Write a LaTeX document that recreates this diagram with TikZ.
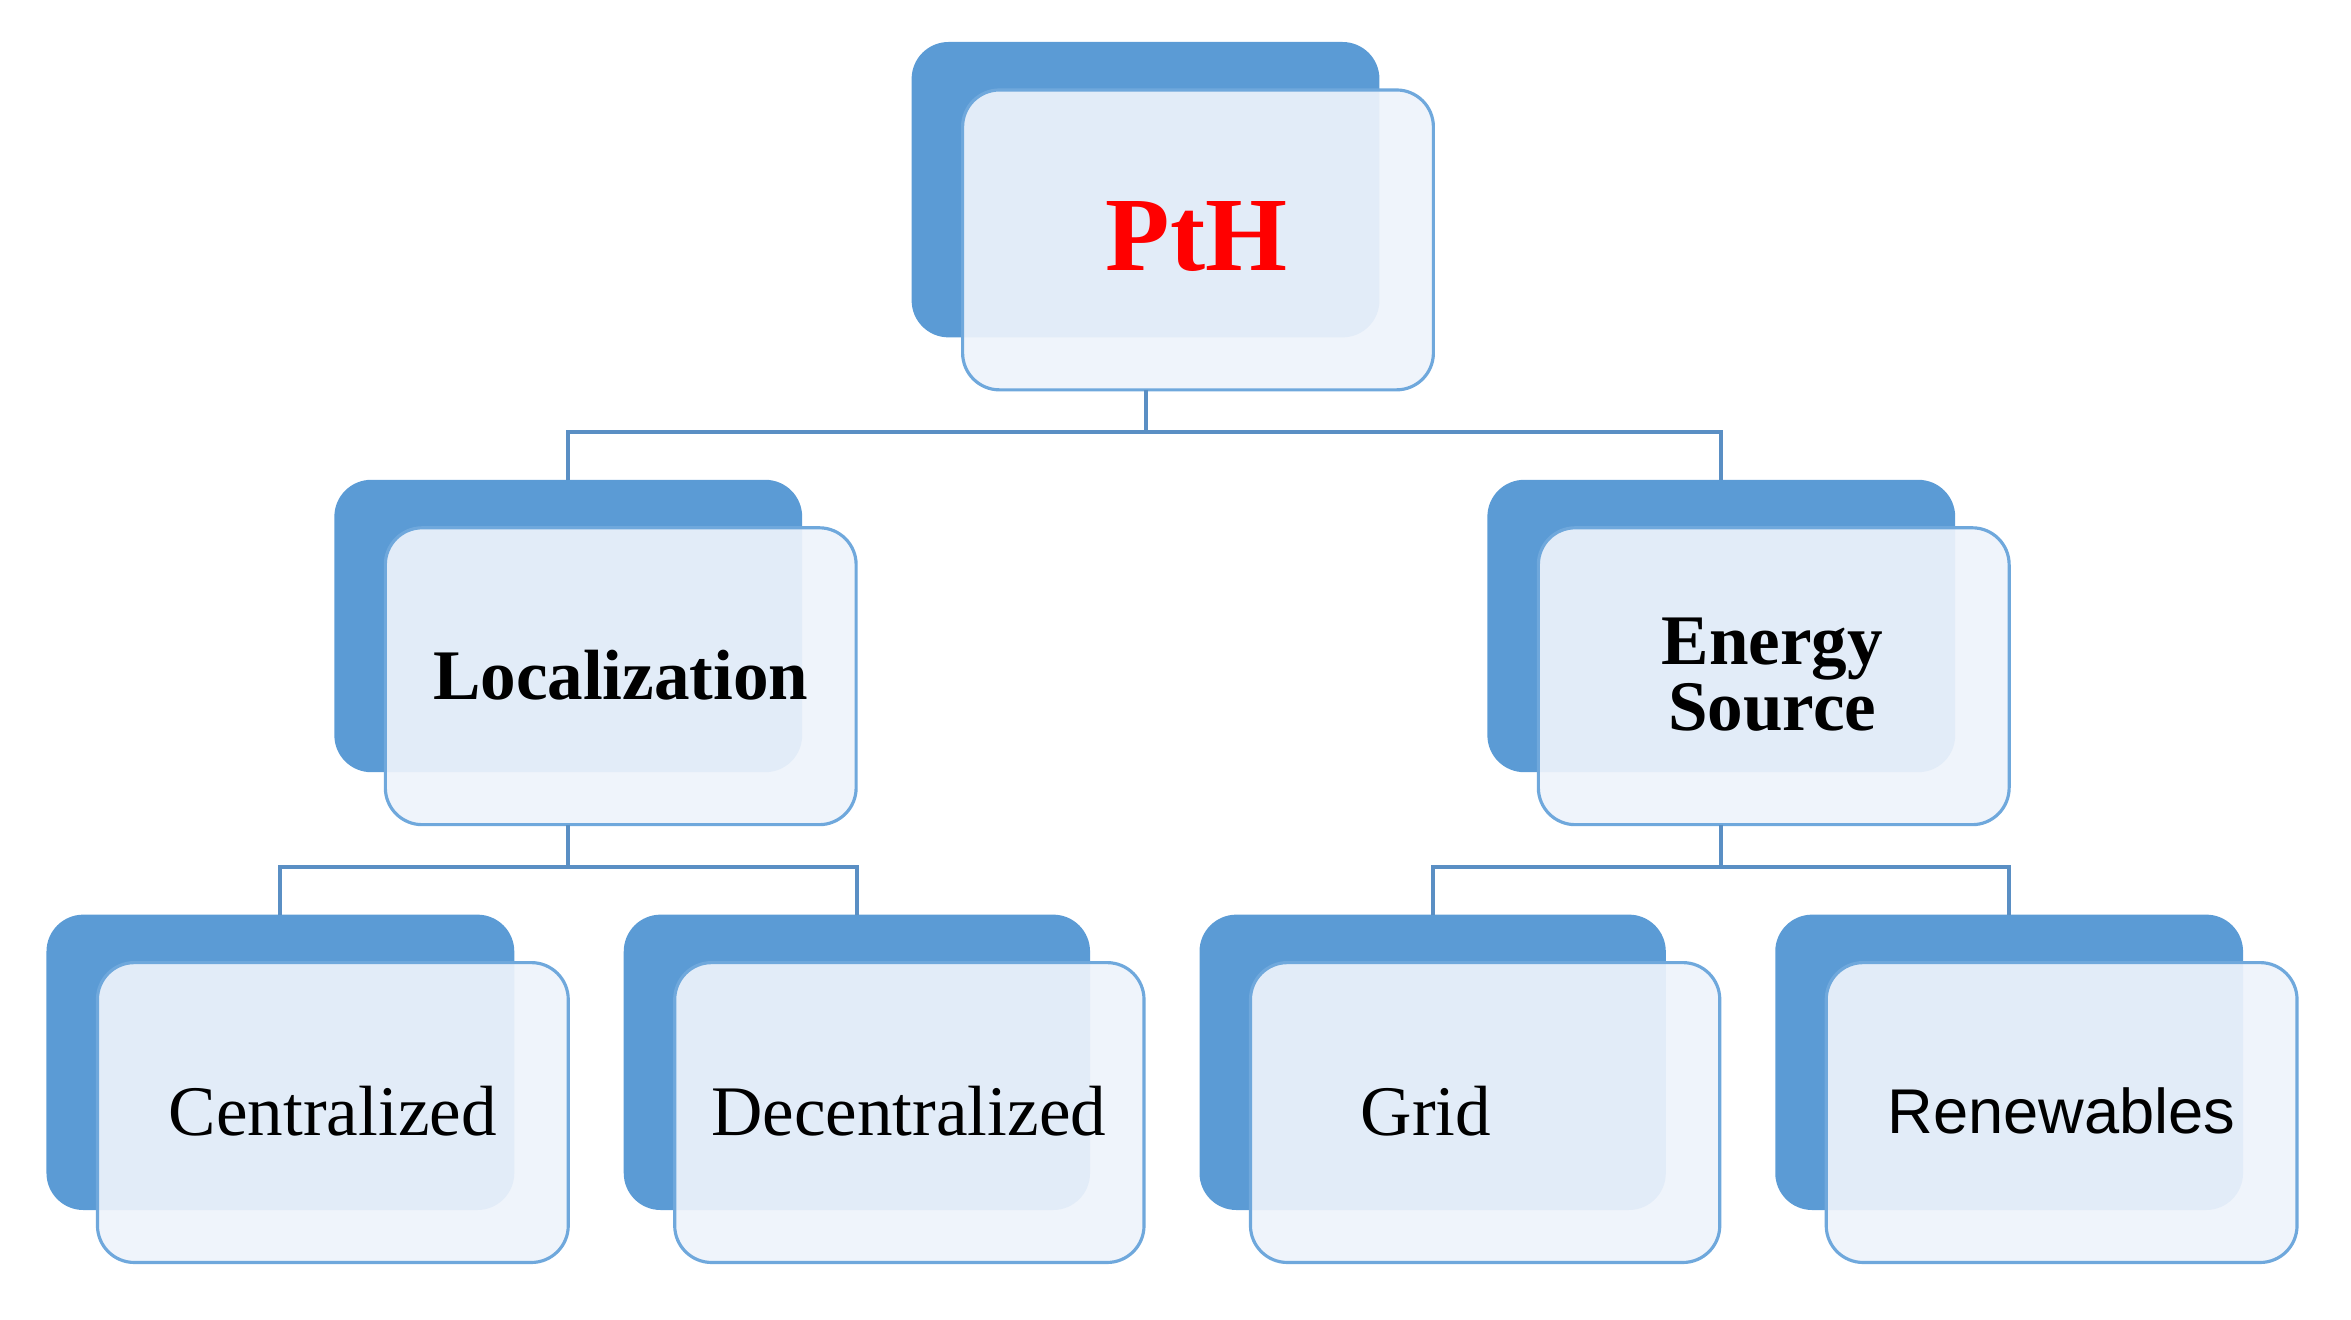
\documentclass[tikz,border=0pt]{standalone}
\usepackage{fontspec}
\setmainfont{Liberation Serif}
\newfontfamily\sansf{Liberation Sans}
\begin{document}
\begin{tikzpicture}[x=0.02cm,y=-0.02cm,
  back/.style={fill=backblue,rounded corners=14},
  front/.style={draw=frontline,line width=1.2pt,fill=frontfill,fill opacity=0.92,rounded corners=14},
  conn/.style={draw=connline,line width=1.5pt},
  lbl/.style={font=\fontsize{27}{29}\selectfont,text=black}]
\definecolor{backblue}{HTML}{5B9BD5}
\definecolor{frontfill}{HTML}{EEF3FB}
\definecolor{frontline}{HTML}{6FA8DC}
\definecolor{connline}{HTML}{5A8FC4}
\useasboundingbox (0,0) rectangle (1568,880);
\newcommand{\pbox}[5]{%
  \fill[back] (#1,#2) rectangle (#3,#4);
  \path[front] (#1+34,#2+32) rectangle (#3+36,#4+35);
  \coordinate (#5) at ({(#1+#3)/2},#2);
  \coordinate (#5b) at ({(#1+#3)/2},#4+35);}
\pbox{608}{28}{920}{225}{pth}
\pbox{223}{320}{535}{515}{loc}
\pbox{992}{320}{1304}{515}{ene}
\pbox{31}{610}{343}{807}{cen}
\pbox{416}{610}{727}{807}{dec}
\pbox{800}{610}{1111}{807}{gri}
\pbox{1184}{610}{1496}{807}{ren}
\node[font=\fontsize{40}{42}\selectfont\bfseries,text=red] (tpth) at (798,158) {PtH};
\node[lbl,font=\fontsize{27}{29}\selectfont\bfseries] (tloc) at (414,450) {Localization};
\node[lbl,font=\fontsize{27}{29}\selectfont\bfseries,align=center] (tene) at (1182,450) {Energy\\[-4pt]Source};
\node[lbl] (tcen) at (222,741) {Centralized};
\node[lbl] (tdec) at (606,741) {Decentralized};
\node[lbl] (tgri) at (951,741) {Grid};
\node[lbl,font=\sansf\fontsize{24}{27}\selectfont] (tren) at (1375,741) {Renewables};
\coordinate (j1) at (764,288);
\coordinate (j2) at (379,578);
\coordinate (j3) at (1148,578);
\draw[conn] (pthb) -- (j1);
\draw[conn] (loc) -- (loc|-j1) -- (ene|-j1) -- (ene);
\draw[conn] (locb) -- (j2);
\draw[conn] (cen) -- (cen|-j2) -- (dec|-j2) -- (dec);
\draw[conn] (eneb) -- (j3);
\draw[conn] (gri) -- (gri|-j3) -- (ren|-j3) -- (ren);
\end{tikzpicture}
\end{document}
